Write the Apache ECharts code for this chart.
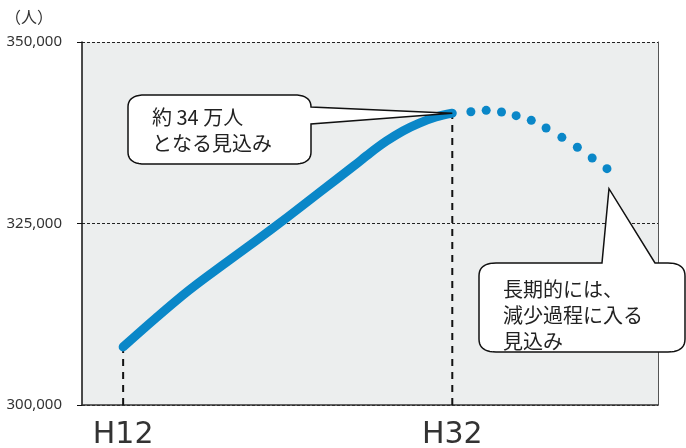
<!DOCTYPE html>
<html>
<head>
<meta charset="utf-8">
<script src="https://cdn.jsdelivr.net/npm/echarts@6/dist/echarts.min.js"></script>
<style>html,body{margin:0;padding:0;background:#fff;}#c{width:686px;height:448px;}</style>
</head>
<body>
<div id="c"></div>
<script>
// ---- data ----
const solidYears  = [12, 14, 16, 18, 20, 22, 24, 26, 27, 28, 29, 30, 31, 32];
const solidValues = [308000, 312000, 315800, 319200, 322500, 325900, 329400, 332900, 334700, 336350, 337750, 338830, 339670, 340200];
const dotYears    = [33.13, 34.06, 34.99, 35.88, 36.8, 37.7, 38.66, 39.6, 40.5, 41.4];
const dotValues   = [340400, 340590, 340360, 339850, 339210, 338150, 336870, 335500, 334020, 332550];
const xTickYears  = [12, 32];
const xTickNames  = ['H12', 'H32'];
const yTickValues = [300000, 325000, 350000];
const yTickNames  = ['300,000', '325,000', '350,000'];
const unitLabel   = '（人）';
const note1 = '約 34 万人\nとなる見込み';
const note2 = '長期的には、\n減少過程に入る\n見込み';

const BLUE = '#0a87c8';
const chart = echarts.init(document.getElementById('c'));

function pair(xs, ys) { return xs.map((x, i) => [x, ys[i]]); }
const lastSolid = solidYears.length - 1;

const option = {
  animation: false,
  grid: { left: 82, right: 28, top: 42, bottom: 43, show: true, backgroundColor: '#eceeee', borderWidth: 0, outerBoundsMode: 'none', containLabel: false },
  xAxis: {
    type: 'value', min: 9.5, max: 44.5, interval: 2.5,
    axisLine: { show: true, onZero: false, lineStyle: { color: '#333', width: 1.5 } },
    axisTick: { show: false },
    splitLine: { show: false },
    axisLabel: {
      margin: 15, fontSize: 30, color: '#333', fontFamily: 'DejaVu Sans',
      formatter: function (v) {
        const i = xTickYears.findIndex(t => Math.abs(t - v) < 1e-6);
        return i >= 0 ? xTickNames[i] : '';
      }
    }
  },
  yAxis: [{
    type: 'value', min: 300000, max: 350000, interval: 25000,
    axisLine: { show: true, lineStyle: { color: '#111', width: 1.5 } },
    axisTick: { show: true, length: 5, lineStyle: { color: '#111', width: 1 } },
    splitLine: { show: true, lineStyle: { color: '#222', width: 1, type: [3, 2] } },
    axisLabel: {
      margin: 20, fontSize: 15, color: '#333', fontFamily: 'Noto Sans',
      formatter: function (v) {
        const i = yTickValues.indexOf(v);
        return i >= 0 ? yTickNames[i] : '';
      }
    }
  }, {
    type: 'value', min: 300000, max: 350000, interval: 25000, position: 'right',
    axisLine: { show: true, lineStyle: { color: '#555', width: 1 } },
    axisTick: { show: false }, axisLabel: { show: false }, splitLine: { show: false }
  }],
  series: [
    {
      type: 'line', z: 1, symbol: 'none', silent: true,
      data: [[solidYears[0], 300000], [solidYears[0], solidValues[0]]],
      lineStyle: { color: '#111', width: 2, type: [7, 6] }
    },
    {
      type: 'line', z: 1, symbol: 'none', silent: true,
      data: [[solidYears[lastSolid], 300000], [solidYears[lastSolid], solidValues[lastSolid]]],
      lineStyle: { color: '#111', width: 2, type: [7, 6] }
    },
    {
      type: 'line', z: 3, symbol: 'none', smooth: 0.35,
      data: pair(solidYears, solidValues),
      lineStyle: { color: BLUE, width: 9, cap: 'round', join: 'round' }
    },
    {
      type: 'scatter', z: 3, symbol: 'circle', symbolSize: 9,
      data: pair(dotYears, dotValues),
      itemStyle: { color: BLUE, opacity: 1 }
    }
  ]
};
chart.setOption(option);

// callout bubbles anchored to data points
const tip1 = chart.convertToPixel({ gridIndex: 0 }, [solidYears[lastSolid], solidValues[lastSolid]]);
const lastDot = dotYears.length - 1;
const d2 = chart.convertToPixel({ gridIndex: 0 }, [dotYears[lastDot], dotValues[lastDot]]);
const tip2 = [d2[0] + 2, d2[1] + 20];

// polygon points with sampled quadratic corners
function Builder() { this.pts = []; }
Builder.prototype.L = function (x, y) { this.pts.push([x, y]); return this; };
Builder.prototype.Q = function (cx, cy, x, y) {
  const p0 = this.pts[this.pts.length - 1];
  for (let i = 1; i <= 10; i++) {
    const t = i / 10, u = 1 - t;
    this.pts.push([u * u * p0[0] + 2 * u * t * cx + t * t * x, u * u * p0[1] + 2 * u * t * cy + t * t * y]);
  }
  return this;
};
function bubbleRight(L, T, R, B, rx, ry, ay1, ay2, t) {
  const b = new Builder();
  b.L(L + rx, T).L(R - rx, T).Q(R, T, R, ay1).L(t[0], t[1]).L(R, ay2)
   .L(R, B - ry).Q(R, B, R - rx, B).L(L + rx, B).Q(L, B, L, B - ry)
   .L(L, T + ry).Q(L, T, L + rx, T);
  return b.pts;
}
function bubbleTop(L, T, R, B, rx, ry, ax1, ax2, t) {
  const b = new Builder();
  b.L(L + rx, T).L(ax1, T).L(t[0], t[1]).L(ax2, T).L(R - rx, T).Q(R, T, R, T + ry)
   .L(R, B - ry).Q(R, B, R - rx, B).L(L + rx, B).Q(L, B, L, B - ry)
   .L(L, T + ry).Q(L, T, L + rx, T);
  return b.pts;
}

const textStyle = { fontSize: 20, fontFamily: '"Noto Sans CJK JP"', fill: '#222', lineHeight: 26 };

chart.setOption({
  graphic: [
    {
      type: 'text', x: 5, y: 9, z: 100,
      style: { text: unitLabel, fontSize: 16, fontFamily: '"Noto Sans CJK JP"', fill: '#333' }
    },
    {
      type: 'polygon', z: 100,
      shape: { points: bubbleRight(128, 95, 311, 164, 17, 12, 107, 124, tip1) },
      style: { fill: '#fff', stroke: '#111', lineWidth: 1.5, lineJoin: 'miter' }
    },
    {
      type: 'text', x: 152, y: 104, z: 101,
      style: Object.assign({ text: note1 }, textStyle)
    },
    {
      type: 'polygon', z: 100,
      shape: { points: bubbleTop(479, 263, 685, 352, 17, 13, tip2[0] - 7, tip2[0] + 46, tip2) },
      style: { fill: '#fff', stroke: '#111', lineWidth: 1.5, lineJoin: 'miter' }
    },
    {
      type: 'text', x: 503, y: 276, z: 101,
      style: Object.assign({ text: note2 }, textStyle)
    }
  ]
});
</script>
</body>
</html>
